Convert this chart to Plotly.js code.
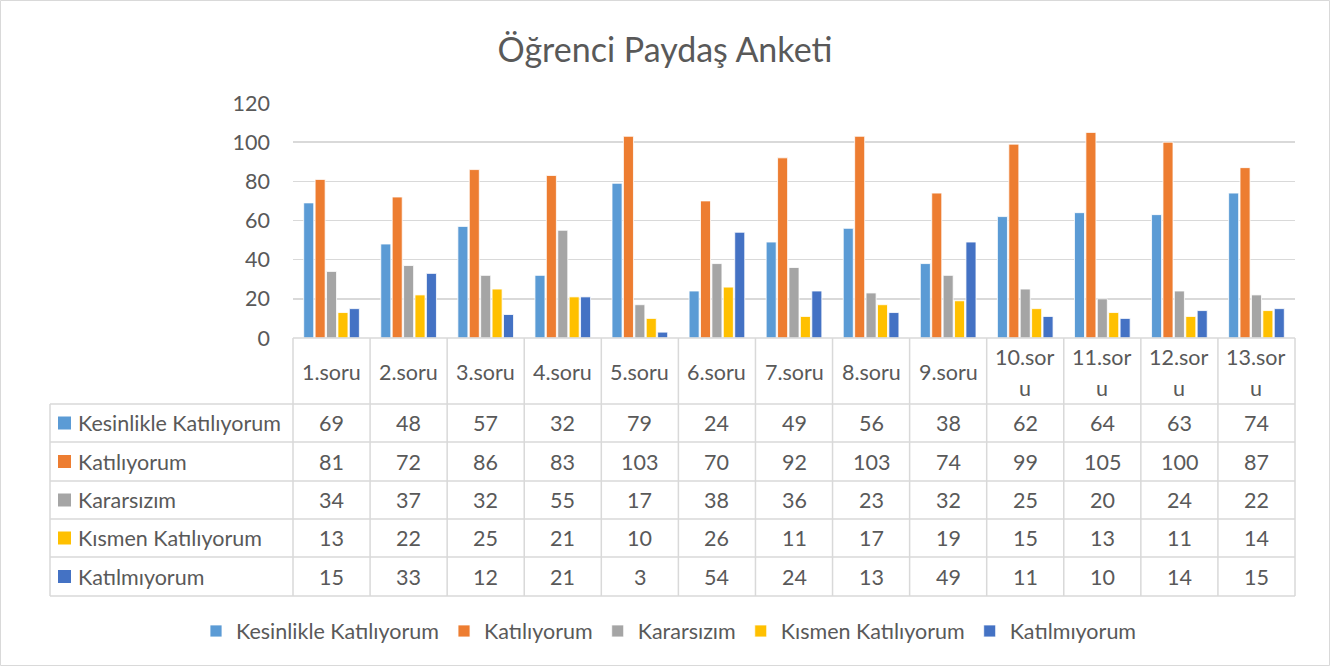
<!DOCTYPE html>
<html><head><meta charset="utf-8">
<script src="https://cdn.plot.ly/plotly-3.0.1.min.js"></script>
<style>html,body{margin:0;padding:0;background:#fff}#chart{width:1330px;height:666px}</style>
</head><body><div id="chart"></div>
<script>
const categories = ['1.soru','2.soru','3.soru','4.soru','5.soru','6.soru','7.soru','8.soru','9.soru','10.soru','11.soru','12.soru','13.soru'];
const seriesNames = ['Kesinlikle Katılıyorum','Katılıyorum','Kararsızım','Kısmen Katılıyorum','Katılmıyorum'];
const kesinlikleKatiliyorum = [69,48,57,32,79,24,49,56,38,62,64,63,74];
const katiliyorum = [81,72,86,83,103,70,92,103,74,99,105,100,87];
const kararsizim = [34,37,32,55,17,38,36,23,32,25,20,24,22];
const kismenKatiliyorum = [13,22,25,21,10,26,11,17,19,15,13,11,14];
const katilmiyorum = [15,33,12,21,3,54,24,13,49,11,10,14,15];
const yTicks = [0,20,40,60,80,100,120];

const seriesValues = [kesinlikleKatiliyorum, katiliyorum, kararsizim, kismenKatiliyorum, katilmiyorum];
const colors = ['#5B9BD5','#ED7D31','#A5A5A5','#FFC000','#4472C4'];
const FONT = 'Lato, "Liberation Sans", sans-serif';
const TXT = '#595959';
const GRID = '#D9D9D9';
const FS = 21.5;

// pixel geometry helpers
const W = 1330, H = 666;
const L = 293, R = 1295, T = 103, B = 338;
const px = x => (x - L) / (R - L);
const py = y => (B - y) / (B - T);

const traces = seriesNames.map((n, i) => ({
  type: 'bar', name: n, x: categories, y: seriesValues[i],
  marker: {color: colors[i], line: {color: '#ffffff', width: 0.8}},
  hoverinfo: 'x+y+name'
}));

const shapes = [];
const annotations = [];
const rowB = [404, 442, 481, 519, 557, 596];
const lineStyle = {color: GRID, width: 1.5};
// outer border
shapes.push({type:'rect', xref:'paper', yref:'paper', x0:px(0.5), x1:px(W-0.5), y0:py(H-0.5), y1:py(0.5), line:{color:GRID,width:1}});
// vertical table lines
for (let i = 0; i <= categories.length; i++) {
  shapes.push({type:'line', xref:'paper', yref:'paper', x0:i/categories.length, x1:i/categories.length, y0:py(B), y1:py(rowB[rowB.length-1]), line:lineStyle});
}
// top line
shapes.push({type:'line', xref:'paper', yref:'paper', x0:0, x1:1, y0:py(B), y1:py(B), line:lineStyle});
// row lines
rowB.forEach(y => shapes.push({type:'line', xref:'paper', yref:'paper', x0:px(50), x1:1, y0:py(y), y1:py(y), line:lineStyle}));
// left border of table
shapes.push({type:'line', xref:'paper', yref:'paper', x0:px(50), x1:px(50), y0:py(rowB[0]), y1:py(rowB[rowB.length-1]), line:lineStyle});

// header labels (wrapped as in cells)
categories.forEach(c => {
  const parts = c.length > 6 ? [c.slice(0,6), c.slice(6)] : [c];
  const ys = parts.length === 1 ? [372] : [357, 388];
  parts.forEach((p, k) => annotations.push({xref:'x', yref:'paper', x:c, y:py(ys[k]), text:p, showarrow:false, xanchor:'center', yanchor:'middle', font:{family:FONT, size:FS, color:TXT}}));
});
// data rows
seriesNames.forEach((n, i) => {
  const yc = (rowB[i] + rowB[i+1]) / 2;
  shapes.push({type:'rect', xref:'paper', yref:'paper', x0:px(58), x1:px(71), y0:py(yc+6.5), y1:py(yc-6.5), fillcolor:colors[i], line:{width:0}});
  annotations.push({xref:'paper', yref:'paper', x:px(76), y:py(yc), text:n, showarrow:false, xanchor:'left', yanchor:'middle', font:{family:FONT, size:FS, color:TXT}});
  categories.forEach((c, j) => annotations.push({xref:'x', yref:'paper', x:c, y:py(yc), text:String(seriesValues[i][j]), showarrow:false, xanchor:'center', yanchor:'middle', font:{family:FONT, size:FS, color:TXT}}));
});

const layout = {
  width: W, height: H,
  margin: {l: L, r: W - R, t: T, b: H - B, pad: 0},
  paper_bgcolor: '#ffffff', plot_bgcolor: '#ffffff',
  font: {family: FONT, color: TXT, size: FS},
  title: {text: 'Öğrenci Paydaş Anketi', x: 0.5, xref: 'container', xanchor: 'center', y: 1 - 50/H, yref: 'container', yanchor: 'middle', font: {family: FONT, size: 34, color: TXT}},
  barmode: 'group', bargap: 0.26, bargroupgap: 0.12,
  xaxis: {type: 'category', showticklabels: false, showline: false, showgrid: false, zeroline: false, ticks: ''},
  yaxis: {range: [0, 120], tickvals: yTicks, ticktext: yTicks.map(String), showgrid: true, gridcolor: GRID, gridwidth: 1.5, zeroline: false, showline: false, ticks: '', ticklabelstandoff: 22, tickfont: {family: FONT, size: FS, color: TXT}},
  showlegend: true,
  legend: {orientation: 'h', x: px(669), xanchor: 'center', y: py(631), yanchor: 'middle', font: {family: FONT, size: FS, color: TXT}, itemwidth: 30, traceorder: 'normal'},
  shapes: shapes, annotations: annotations
};
Plotly.newPlot('chart', traces, layout, {displayModeBar: false, staticPlot: true});
</script></body></html>
